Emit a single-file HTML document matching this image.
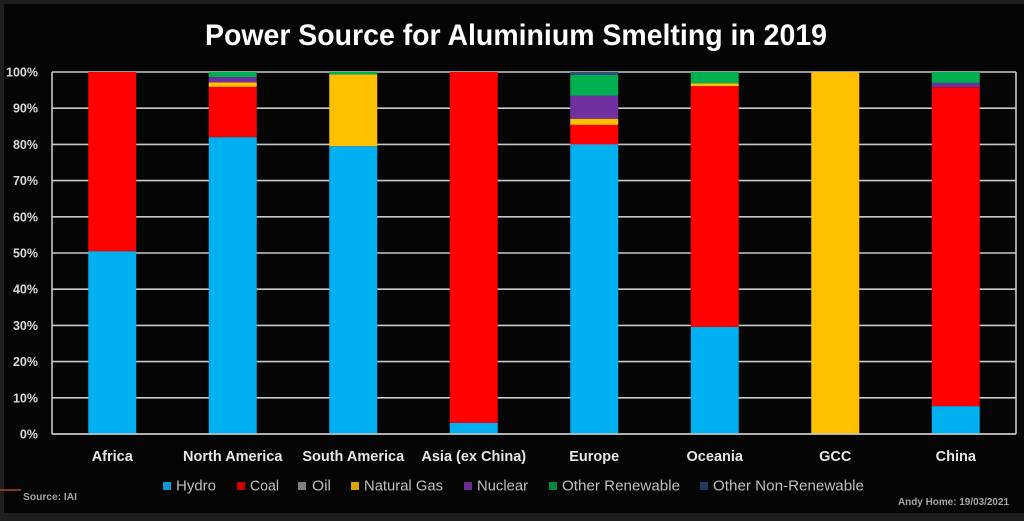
<!DOCTYPE html>
<html>
<head>
<meta charset="utf-8">
<style>
  html, body { margin:0; padding:0; background:#1e1e1e; }
  svg { display:block; }
  text { font-family: "Liberation Sans", Arial, sans-serif; }
</style>
</head>
<body>
<svg width="1024" height="521" viewBox="0 0 1024 521" xmlns="http://www.w3.org/2000/svg">
  <rect x="0" y="0" width="1024" height="521" fill="#1e1e1e"/>
  <rect x="4" y="4" width="1020" height="509" fill="#050505"/>

  <!-- Title -->
  <text x="205" y="45" font-size="30" font-weight="bold" fill="#ffffff" textLength="622" lengthAdjust="spacingAndGlyphs">Power Source for Aluminium Smelting in 2019</text>

  <!-- Gridlines -->
  <g stroke="#c8c8c8" stroke-width="1.6">
    <line x1="52" y1="72" x2="1016" y2="72"/>
    <line x1="52" y1="108.2" x2="1016" y2="108.2"/>
    <line x1="52" y1="144.4" x2="1016" y2="144.4"/>
    <line x1="52" y1="180.6" x2="1016" y2="180.6"/>
    <line x1="52" y1="216.8" x2="1016" y2="216.8"/>
    <line x1="52" y1="253" x2="1016" y2="253"/>
    <line x1="52" y1="289.2" x2="1016" y2="289.2"/>
    <line x1="52" y1="325.4" x2="1016" y2="325.4"/>
    <line x1="52" y1="361.6" x2="1016" y2="361.6"/>
    <line x1="52" y1="397.8" x2="1016" y2="397.8"/>
    <line x1="52" y1="434" x2="1016" y2="434"/>
    <line x1="52" y1="72" x2="52" y2="434"/>
    <line x1="1016" y1="72" x2="1016" y2="434"/>
  </g>

  <!-- Y labels -->
  <g font-size="12.5" font-weight="bold" fill="#d9d9d9" text-anchor="end">
    <text x="38" y="76.5">100%</text>
    <text x="38" y="112.7">90%</text>
    <text x="38" y="148.9">80%</text>
    <text x="38" y="185.1">70%</text>
    <text x="38" y="221.3">60%</text>
    <text x="38" y="257.5">50%</text>
    <text x="38" y="293.7">40%</text>
    <text x="38" y="329.9">30%</text>
    <text x="38" y="366.1">20%</text>
    <text x="38" y="402.3">10%</text>
    <text x="38" y="438.5">0%</text>
  </g>

  <!-- Bars -->
  <!-- Africa -->
  <rect x="88.25" y="251.19" width="48" height="182.81" fill="#00b0f0"/>
  <rect x="88.25" y="72" width="48" height="179.19" fill="#ff0000"/>
  <!-- North America -->
  <rect x="208.75" y="137.16" width="48" height="296.84" fill="#00b0f0"/>
  <rect x="208.75" y="86.84" width="48" height="50.32" fill="#ff0000"/>
  <rect x="208.75" y="82.5" width="48" height="4.34" fill="#ffc000"/>
  <rect x="208.75" y="77.07" width="48" height="5.43" fill="#7030a0"/>
  <rect x="208.75" y="72" width="48" height="5.07" fill="#00b050"/>
  <!-- South America -->
  <rect x="329.25" y="146.21" width="48" height="287.79" fill="#00b0f0"/>
  <rect x="329.25" y="74.53" width="48" height="71.68" fill="#ffc000"/>
  <rect x="329.25" y="72" width="48" height="2.53" fill="#00b050"/>
  <!-- Asia -->
  <rect x="449.75" y="422.78" width="48" height="11.22" fill="#00b0f0"/>
  <rect x="449.75" y="72" width="48" height="350.78" fill="#ff0000"/>
  <!-- Europe -->
  <rect x="570.25" y="144.4" width="48" height="289.6" fill="#00b0f0"/>
  <rect x="570.25" y="124.85" width="48" height="19.55" fill="#ff0000"/>
  <rect x="570.25" y="118.7" width="48" height="6.15" fill="#ffc000"/>
  <rect x="570.25" y="95.53" width="48" height="23.17" fill="#7030a0"/>
  <rect x="570.25" y="74.9" width="48" height="20.63" fill="#00b050"/>
  <rect x="570.25" y="72" width="48" height="2.9" fill="#2f4f7f"/>
  <!-- Oceania -->
  <rect x="690.75" y="326.85" width="48" height="107.15" fill="#00b0f0"/>
  <rect x="690.75" y="86.12" width="48" height="240.73" fill="#ff0000"/>
  <rect x="690.75" y="83.22" width="48" height="2.9" fill="#ffc000"/>
  <rect x="690.75" y="72" width="48" height="11.22" fill="#00b050"/>
  <!-- GCC -->
  <rect x="811.25" y="72" width="48" height="362" fill="#ffc000"/>
  <!-- China -->
  <rect x="931.75" y="406.13" width="48" height="27.87" fill="#00b0f0"/>
  <rect x="931.75" y="87.2" width="48" height="318.93" fill="#ff0000"/>
  <rect x="931.75" y="82.86" width="48" height="4.34" fill="#7030a0"/>
  <rect x="931.75" y="72" width="48" height="10.86" fill="#00b050"/>

  <!-- Axis line on top -->
  <line x1="52" y1="434" x2="1016" y2="434" stroke="#c8c8c8" stroke-width="1.6"/>

  <!-- Category labels -->
  <g font-size="14.5" font-weight="bold" fill="#e6e6e6" text-anchor="middle">
    <text x="112.25" y="461">Africa</text>
    <text x="232.75" y="461">North America</text>
    <text x="353.25" y="461">South America</text>
    <text x="473.75" y="461">Asia (ex China)</text>
    <text x="594.25" y="461">Europe</text>
    <text x="714.75" y="461">Oceania</text>
    <text x="835.25" y="461">GCC</text>
    <text x="955.75" y="461">China</text>
  </g>

  <!-- Legend -->
  <g font-size="15" fill="#bfbfbf">
    <rect x="163" y="482" width="8" height="8" fill="#0a9ad2"/>
    <text x="176" y="490.5" textLength="40" lengthAdjust="spacingAndGlyphs">Hydro</text>
    <rect x="237" y="482" width="8" height="8" fill="#c80000"/>
    <text x="250" y="490.5" textLength="29" lengthAdjust="spacingAndGlyphs">Coal</text>
    <rect x="298" y="482" width="8" height="8" fill="#7f7f7f"/>
    <text x="312" y="490.5" textLength="19" lengthAdjust="spacingAndGlyphs">Oil</text>
    <rect x="351" y="482" width="8" height="8" fill="#d9a300"/>
    <text x="364" y="490.5" textLength="79" lengthAdjust="spacingAndGlyphs">Natural Gas</text>
    <rect x="464" y="482" width="8" height="8" fill="#6a2d91"/>
    <text x="477" y="490.5" textLength="51" lengthAdjust="spacingAndGlyphs">Nuclear</text>
    <rect x="549" y="482" width="8" height="8" fill="#00883d"/>
    <text x="562" y="490.5" textLength="118" lengthAdjust="spacingAndGlyphs">Other Renewable</text>
    <rect x="700" y="482" width="8" height="8" fill="#1f3864"/>
    <text x="713" y="490.5" textLength="151" lengthAdjust="spacingAndGlyphs">Other Non-Renewable</text>
  </g>

  <!-- Source -->
  <line x1="0" y1="490" x2="21" y2="490" stroke="#c55a11" stroke-width="1.2"/>
  <text x="23" y="500" font-size="10.5" font-weight="bold" fill="#a6a6a6" textLength="54" lengthAdjust="spacingAndGlyphs">Source: IAI</text>
  <text x="898" y="505" font-size="10.5" font-weight="bold" fill="#a6a6a6" textLength="111" lengthAdjust="spacingAndGlyphs">Andy Home: 19/03/2021</text>
</svg>
</body>
</html>
